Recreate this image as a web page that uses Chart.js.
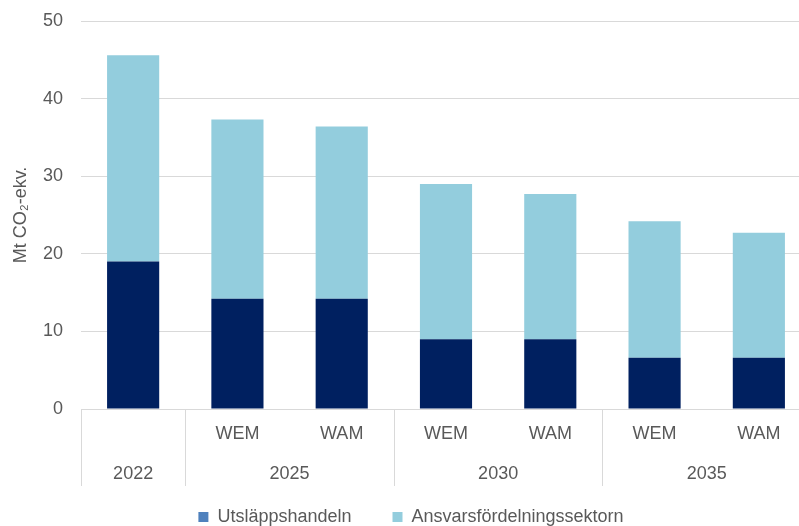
<!DOCTYPE html>
<html>
<head>
<meta charset="utf-8">
<script src="https://cdn.jsdelivr.net/npm/chart.js@4.4.1/dist/chart.umd.min.js"></script>
<style>
  html, body { margin: 0; padding: 0; overflow: hidden; background: #fff; }
  canvas { display: block; }
</style>
</head>
<body>
<canvas id="chart" width="822" height="536"></canvas>
<script>
// Emissions by sector, Mt CO2-eq, scenarios WEM / WAM
const categories = ["", "WEM", "WAM", "WEM", "WAM", "WEM", "WAM"];
const groupLabels = ["2022", "2025", "2030", "2035"];
const groupSizes = [1, 2, 2, 2];
const seriesNames = ["Utsläppshandeln", "Ansvarsfördelningssektorn"];
const etsValues = [19.0, 14.2, 14.2, 9.0, 9.0, 6.6, 6.6];
const esrValues = [26.6, 23.1, 22.2, 20.0, 18.7, 17.6, 16.1];

const barColors = ["#002060", "#93CDDD"];
const legendColors = ["#4F81BD", "#93CDDD"];
const textColor = "#595959";
const gridColor = "#d9d9d9";
const fontFamily = '"Liberation Sans", Arial, sans-serif';

// draws the second row of x labels (years) and the separators between groups
const groupAxisPlugin = {
  id: "groupAxis",
  afterDraw(chart) {
    const x = chart.scales.x;
    const ctx = chart.ctx;
    const top = chart.chartArea.bottom;
    const half = (x.getPixelForValue(1) - x.getPixelForValue(0)) / 2;
    const edges = [x.getPixelForValue(0) - half];

    ctx.save();
    ctx.font = "18px " + fontFamily;
    ctx.fillStyle = textColor;
    ctx.textAlign = "center";
    ctx.textBaseline = "middle";

    let start = 0;
    groupSizes.forEach((n, g) => {
      const a = x.getPixelForValue(start);
      const b = x.getPixelForValue(start + n - 1);
      ctx.fillText(groupLabels[g], (a + b) / 2, top + 65);
      edges.push(b + half);
      start += n;
    });

    ctx.strokeStyle = gridColor;
    ctx.lineWidth = 1;
    edges.forEach((e) => {
      const px = Math.round(e) + 0.5;
      ctx.beginPath();
      ctx.moveTo(px, top);
      ctx.lineTo(px, top + 77);
      ctx.stroke();
    });
    ctx.restore();
  },
};

new Chart(document.getElementById("chart"), {
  type: "bar",
  data: {
    labels: categories,
    datasets: [
      { label: seriesNames[0], data: etsValues, backgroundColor: barColors[0] },
      { label: seriesNames[1], data: esrValues, backgroundColor: barColors[1] },
    ],
  },
  options: {
    responsive: false,
    animation: false,
    layout: { padding: { top: 21, left: 0, right: 0, bottom: 0 } },
    datasets: {
      bar: { categoryPercentage: 1, barPercentage: 0.5, borderWidth: 0 },
    },
    scales: {
      x: {
        stacked: true,
        grid: { display: false, drawTicks: false },
        border: { display: false },
        ticks: {
          color: textColor,
          font: { family: fontFamily, size: 18 },
          padding: 14,
          maxRotation: 0,
          autoSkip: false,
        },
        afterFit: (s) => { s.height = 58; },
      },
      y: {
        stacked: true,
        min: 0,
        max: 50,
        grid: { color: gridColor, lineWidth: 1, drawTicks: false },
        border: { display: false },
        ticks: {
          stepSize: 10,
          color: textColor,
          font: { family: fontFamily, size: 18 },
          padding: 18,
        },
        title: {
          display: true,
          text: "Mt CO₂-ekv.",
          color: textColor,
          font: { family: fontFamily, size: 18 },
          padding: { top: 10, bottom: 0 },
        },
        afterFit: (s) => {
          s.width = 81;
          s.paddingTop = 0;
        },
      },
      // empty right axis only reserving space so the plot runs past the crop
      y2: {
        position: "right",
        grid: { display: false },
        border: { display: false },
        ticks: { display: false },
        afterFit: (s) => { s.width = 11; },
      },
    },
    plugins: {
      legend: {
        position: "bottom",
        labels: {
          color: textColor,
          font: { family: fontFamily, size: 18 },
          boxWidth: 10,
          boxHeight: 10,
          padding: 41,
          generateLabels: (chart) =>
            chart.data.datasets.map((ds, i) => ({
              text: ds.label,
              fillStyle: legendColors[i],
              strokeStyle: legendColors[i],
              lineWidth: 0,
              fontColor: textColor,
              datasetIndex: i,
              hidden: false,
            })),
        },
      },
      tooltip: { enabled: false },
    },
  },
  plugins: [groupAxisPlugin],
});
</script>
</body>
</html>
